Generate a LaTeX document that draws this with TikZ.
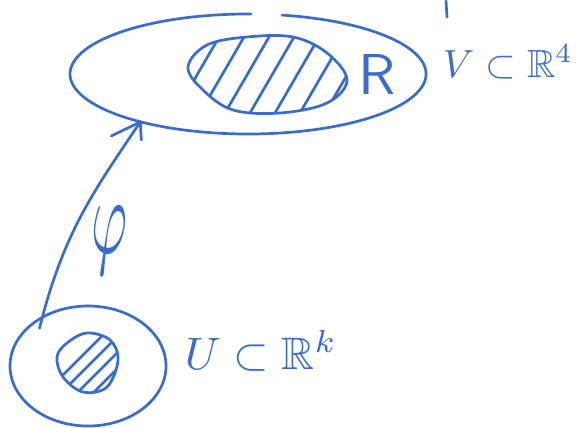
\documentclass[tikz,border=0pt]{standalone}
\usepackage{amssymb}
\usepackage{graphicx}
\usetikzlibrary{shapes.geometric,arrows.meta}
\definecolor{pen}{RGB}{58,108,200}
\tikzset{
  ink/.style={draw=pen,line width=2.7pt,line cap=round,line join=round},
  hatch/.style={draw=pen,line width=2.7pt,line cap=round},
  lbl/.style={text=pen,inner sep=0pt}
}
\begin{document}
\begin{tikzpicture}[x=1pt,y=-1pt]
\useasboundingbox (0,0) rectangle (581,428);
% large region V (ellipse with a small gap at the top)
\node[ellipse,minimum width=356pt,minimum height=120pt,inner sep=0pt] (V) at (248,74) {};
\draw[ink] (282,15.1) arc[start angle=281,end angle=631,x radius=178,y radius=60];
% small region U
\node[ellipse,ink,minimum width=156pt,minimum height=120pt,inner sep=0pt] (U) at (88,366) {};
% blob R
\begin{scope}
\path[clip] plot[smooth cycle,tension=0.6] coordinates {(188,67) (207,45) (247,37) (293,37) (327,53) (347,80) (327,103) (280,113) (233,110) (203,90)};
\foreach \x in {168,193,...,360} \draw[hatch] (\x,125) -- (\x+58,25);
\end{scope}
\draw[ink] plot[smooth cycle,tension=0.6] coordinates {(188,67) (207,45) (247,37) (293,37) (327,53) (347,80) (327,103) (280,113) (233,110) (203,90)};
% small blob
\begin{scope}
\path[clip] plot[smooth cycle,tension=0.6] coordinates {(57,357) (67,343) (87,333) (110,340) (118,360) (107,387) (83,392) (63,377)};
\foreach \x in {38,54,...,130} \draw[hatch] (\x,400) -- (\x+65,335);
\end{scope}
\draw[ink] plot[smooth cycle,tension=0.6] coordinates {(57,357) (67,343) (87,333) (110,340) (118,360) (107,387) (83,392) (63,377)};
% labels
\node[lbl] (Rl) at (377,74) {\resizebox{!}{40pt}{\sffamily R}};
\node[lbl] (Vl) at (508,62) {\resizebox{130pt}{!}{$V\subset\mathbb{R}^4$}};
\node[lbl] (Ul) at (261,351) {\resizebox{152pt}{!}{$U\subset\mathbb{R}^k$}};
\node[lbl] (phi) at (110,241) {\resizebox*{36pt}{68pt}{$\varphi$}};
% map phi
\draw[ink,shorten <=-13pt] (U.132) to[out=76,in=236] (V.204);
\draw[ink] (V.204) -- ++(-29,14);
\draw[ink] (V.204) -- ++(1,18);
% stray stroke at the top
\coordinate (t1) at (446,1);
\coordinate (t2) at (447,17);
\draw[ink] (t1) -- (t2);
\end{tikzpicture}
\end{document}
